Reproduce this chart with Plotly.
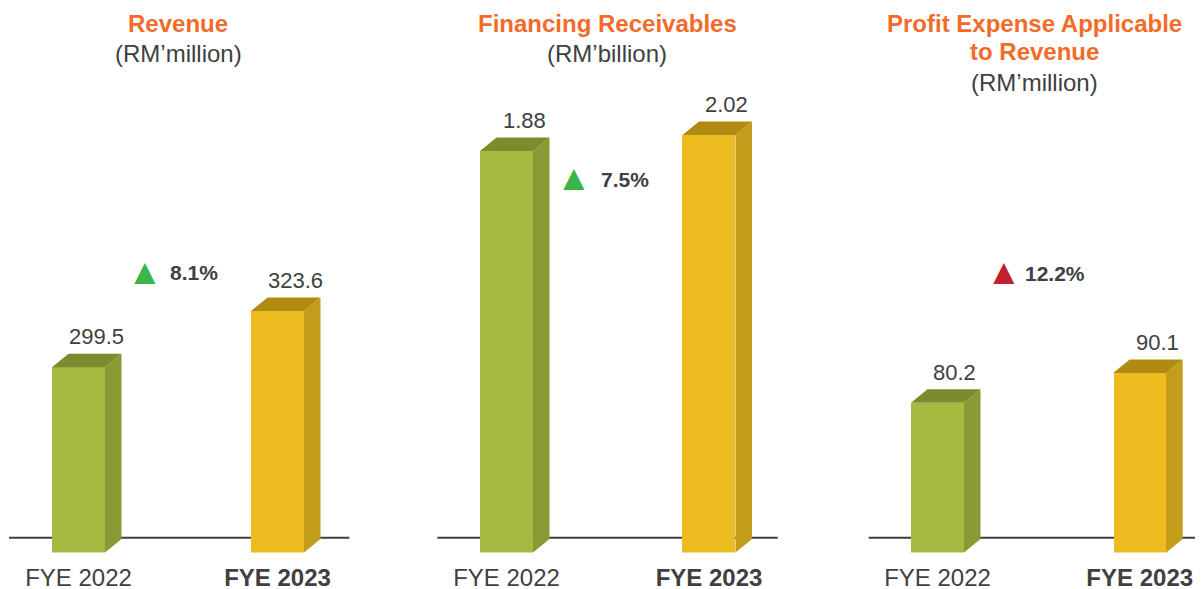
import plotly.graph_objects as go

# ---------------- data ----------------
periods = ["FYE 2022", "FYE 2023"]
revenue = [299.5, 323.6]
financing_receivables = [1.88, 2.02]
profit_expense = [80.2, 90.1]
value_formats = ["{:.1f}", "{:.2f}", "{:.1f}"]
change_labels = ["8.1%", "7.5%", "12.2%"]
titles = ["Revenue", "Financing Receivables", "Profit Expense Applicable", "to Revenue"]
units = ["(RM’million)", "(RM’billion)", "(RM’million)"]

series = [revenue, financing_receivables, profit_expense]

# ---------------- styling / layout ----------------
PAGE_W, PAGE_H = 1203, 589
OFF = 8  # default page body margin
W, H = PAGE_W - OFF, PAGE_H - OFF
FONT = "Liberation Sans, Arial, sans-serif"
GREY = "#404040"
ORANGE = "#F26B2A"
FRONT = ["#A6B940", "#EBBB1F"]
SIDE = ["#879A34", "#C39D1A"]
TOP = ["#7B8B2E", "#B08B12"]
UP_COL = ["#39B54A", "#39B54A", "#C0202F"]

BAR_PX = 53.0
DX_PX = 16.5
DY_PX = 13.5
BOTTOM_PY = 552.5
BASE_PY = 537.7

# per panel: left/right px of panel, bar centre px, px per unit, value at bar bottom
panels = [
    dict(L=9.0, R=349.3, c=(78.5, 277.5), a=2.336, y0=220.2, title_cx=178),
    dict(L=437.3, R=777.7, c=(506.5, 709.0), a=114.3, y0=-1.633, title_cx=607),
    dict(L=868.7, R=1203.0, c=(937.5, 1139.7), a=3.0, y0=30.27, title_cx=1034),
]

def px(x):
    return (x - OFF) / W

def py(y):
    return 1 - (y - OFF) / H

fig = go.Figure()
annotations = []
shapes = []
layout_axes = {}

for k, (vals, p) in enumerate(zip(series, panels)):
    sfx = "" if k == 0 else str(k + 1)
    xa, ya = "x" + sfx, "y" + sfx
    spacing = p["c"][1] - p["c"][0]
    xr0 = (p["L"] - p["c"][0]) / spacing
    xr1 = (p["R"] - p["c"][0]) / spacing
    y_top = p["y0"] + (BOTTOM_PY - OFF) / p["a"]
    w = BAR_PX / spacing
    dx = DX_PX / spacing
    dy = DY_PX / p["a"]
    y0 = p["y0"]

    layout_axes["xaxis" + sfx] = dict(
        domain=[max(0, px(p["L"])), min(1, px(p["R"]))], range=[xr0, xr1], anchor=ya,
        showgrid=False, zeroline=False, showline=False, ticks="", automargin=False,
        tickvals=[0, 1], ticktext=[periods[0], "<b>" + periods[1] + "</b>"],
        tickfont=dict(family=FONT, size=24, color=GREY), ticklabelstandoff=8,
        fixedrange=True,
    )
    layout_axes["yaxis" + sfx] = dict(
        domain=[py(BOTTOM_PY), 1], range=[y0, y_top], anchor=xa, automargin=False,
        visible=False, fixedrange=True,
    )

    # front faces
    fig.add_trace(go.Bar(
        x=[0, 1], y=[v - y0 for v in vals], base=y0, width=w,
        marker=dict(color=FRONT, line=dict(width=0)),
        xaxis=xa, yaxis=ya, showlegend=False, hoverinfo="skip",
    ))
    for i, v in enumerate(vals):
        xl, xr = i - w / 2, i + w / 2
        # side face
        fig.add_trace(go.Scatter(
            x=[xr, xr + dx, xr + dx, xr, xr],
            y=[y0, y0 + dy, v + dy, v, y0],
            fill="toself", fillcolor=SIDE[i], mode="lines", line=dict(width=0),
            xaxis=xa, yaxis=ya, showlegend=False, hoverinfo="skip",
        ))
        # top face
        fig.add_trace(go.Scatter(
            x=[xl, xr, xr + dx, xl + dx, xl],
            y=[v, v, v + dy, v + dy, v],
            fill="toself", fillcolor=TOP[i], mode="lines", line=dict(width=0),
            xaxis=xa, yaxis=ya, showlegend=False, hoverinfo="skip",
        ))
        annotations.append(dict(
            x=i, y=v, xref=xa, yref=ya, text=value_formats[k].format(v),
            showarrow=False, xanchor="center", yanchor="bottom",
            xshift=17.5, yshift=16,
            font=dict(family=FONT, size=22, color=GREY),
        ))

    # baseline
    shapes.append(dict(
        type="line", xref=xa + " domain", yref=ya, x0=0, x1=1,
        y0=y0 + (BOTTOM_PY - BASE_PY) / p["a"], y1=y0 + (BOTTOM_PY - BASE_PY) / p["a"],
        line=dict(color=GREY, width=2), layer="below",
    ))

# titles
title_rows = [
    (0, titles[0], 23, True), (0, units[0], 53, False),
    (1, titles[1], 23, True), (1, units[1], 53, False),
    (2, titles[2], 23, True), (2, titles[3], 52, True), (2, units[2], 82, False),
]
for k, txt, yy, bold in title_rows:
    annotations.append(dict(
        x=px(panels[k]["title_cx"]), y=py(yy), xref="paper", yref="paper",
        text=("<b>" + txt + "</b>") if bold else txt, showarrow=False,
        xanchor="center", yanchor="middle",
        font=dict(family=FONT, size=24, color=ORANGE if bold else GREY),
    ))

# change indicators
ind_pos = [(145, 271, 168, 272), (574, 177, 599, 180), (1004, 271, 1023, 273)]
for k, (tx, ty, lx, ly) in enumerate(ind_pos):
    annotations.append(dict(
        x=px(tx), y=py(ty), xref="paper", yref="paper", text="▲", showarrow=False,
        xanchor="center", yanchor="middle",
        font=dict(family=FONT, size=36, color=UP_COL[k]),
    ))
    annotations.append(dict(
        x=px(lx), y=py(ly), xref="paper", yref="paper", text="<b>" + change_labels[k] + "</b>",
        showarrow=False, xanchor="left", yanchor="middle",
        font=dict(family=FONT, size=21, color=GREY),
    ))

fig.update_layout(
    width=W, height=H, margin=dict(l=0, r=0, t=0, b=0, autoexpand=False),
    paper_bgcolor="white", plot_bgcolor="rgba(0,0,0,0)",
    showlegend=False, bargap=0,
    annotations=annotations, shapes=shapes,
    **layout_axes,
)

fig.write_html("out.html", config={"displayModeBar": False})
